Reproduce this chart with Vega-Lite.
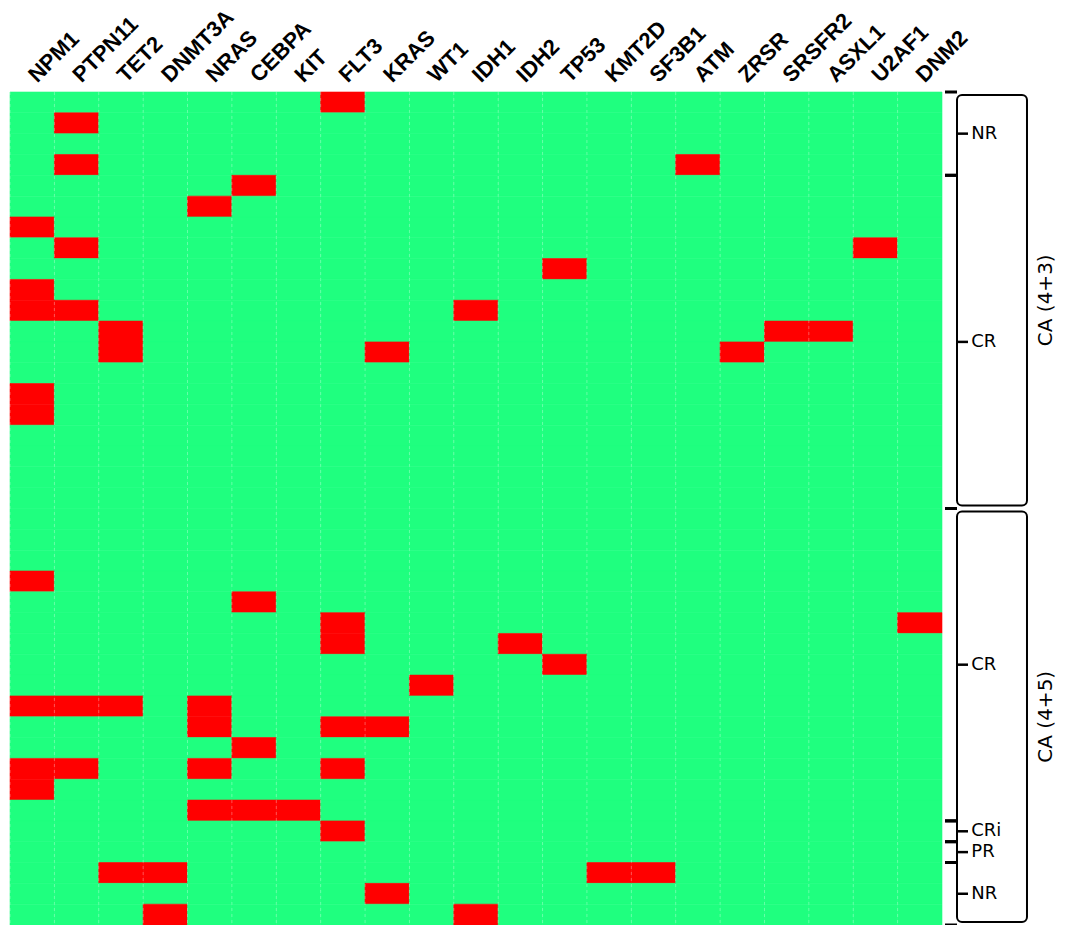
{
  "$schema": "https://vega.github.io/schema/vega-lite/v6.json",
  "width": 932,
  "height": 833,
  "autosize": {"type": "none"},
  "padding": {"left": 10, "top": 92, "right": 130, "bottom": 0},
  "background": "white",
  "config": {"view": {"stroke": null}, "font": "Liberation Sans"},
  "datasets": {
    "patients": [
      {"p":1,"NPM1":0,"PTPN11":0,"TET2":0,"DNMT3A":0,"NRAS":0,"CEBPA":0,"KIT":0,"FLT3":1,"KRAS":0,"WT1":0,"IDH1":0,"IDH2":0,"TP53":0,"KMT2D":0,"SF3B1":0,"ATM":0,"ZRSR":0,"SRSFR2":0,"ASXL1":0,"U2AF1":0,"DNM2":0},
      {"p":2,"NPM1":0,"PTPN11":1,"TET2":0,"DNMT3A":0,"NRAS":0,"CEBPA":0,"KIT":0,"FLT3":0,"KRAS":0,"WT1":0,"IDH1":0,"IDH2":0,"TP53":0,"KMT2D":0,"SF3B1":0,"ATM":0,"ZRSR":0,"SRSFR2":0,"ASXL1":0,"U2AF1":0,"DNM2":0},
      {"p":3,"NPM1":0,"PTPN11":0,"TET2":0,"DNMT3A":0,"NRAS":0,"CEBPA":0,"KIT":0,"FLT3":0,"KRAS":0,"WT1":0,"IDH1":0,"IDH2":0,"TP53":0,"KMT2D":0,"SF3B1":0,"ATM":0,"ZRSR":0,"SRSFR2":0,"ASXL1":0,"U2AF1":0,"DNM2":0},
      {"p":4,"NPM1":0,"PTPN11":1,"TET2":0,"DNMT3A":0,"NRAS":0,"CEBPA":0,"KIT":0,"FLT3":0,"KRAS":0,"WT1":0,"IDH1":0,"IDH2":0,"TP53":0,"KMT2D":0,"SF3B1":0,"ATM":1,"ZRSR":0,"SRSFR2":0,"ASXL1":0,"U2AF1":0,"DNM2":0},
      {"p":5,"NPM1":0,"PTPN11":0,"TET2":0,"DNMT3A":0,"NRAS":0,"CEBPA":1,"KIT":0,"FLT3":0,"KRAS":0,"WT1":0,"IDH1":0,"IDH2":0,"TP53":0,"KMT2D":0,"SF3B1":0,"ATM":0,"ZRSR":0,"SRSFR2":0,"ASXL1":0,"U2AF1":0,"DNM2":0},
      {"p":6,"NPM1":0,"PTPN11":0,"TET2":0,"DNMT3A":0,"NRAS":1,"CEBPA":0,"KIT":0,"FLT3":0,"KRAS":0,"WT1":0,"IDH1":0,"IDH2":0,"TP53":0,"KMT2D":0,"SF3B1":0,"ATM":0,"ZRSR":0,"SRSFR2":0,"ASXL1":0,"U2AF1":0,"DNM2":0},
      {"p":7,"NPM1":1,"PTPN11":0,"TET2":0,"DNMT3A":0,"NRAS":0,"CEBPA":0,"KIT":0,"FLT3":0,"KRAS":0,"WT1":0,"IDH1":0,"IDH2":0,"TP53":0,"KMT2D":0,"SF3B1":0,"ATM":0,"ZRSR":0,"SRSFR2":0,"ASXL1":0,"U2AF1":0,"DNM2":0},
      {"p":8,"NPM1":0,"PTPN11":1,"TET2":0,"DNMT3A":0,"NRAS":0,"CEBPA":0,"KIT":0,"FLT3":0,"KRAS":0,"WT1":0,"IDH1":0,"IDH2":0,"TP53":0,"KMT2D":0,"SF3B1":0,"ATM":0,"ZRSR":0,"SRSFR2":0,"ASXL1":0,"U2AF1":1,"DNM2":0},
      {"p":9,"NPM1":0,"PTPN11":0,"TET2":0,"DNMT3A":0,"NRAS":0,"CEBPA":0,"KIT":0,"FLT3":0,"KRAS":0,"WT1":0,"IDH1":0,"IDH2":0,"TP53":1,"KMT2D":0,"SF3B1":0,"ATM":0,"ZRSR":0,"SRSFR2":0,"ASXL1":0,"U2AF1":0,"DNM2":0},
      {"p":10,"NPM1":1,"PTPN11":0,"TET2":0,"DNMT3A":0,"NRAS":0,"CEBPA":0,"KIT":0,"FLT3":0,"KRAS":0,"WT1":0,"IDH1":0,"IDH2":0,"TP53":0,"KMT2D":0,"SF3B1":0,"ATM":0,"ZRSR":0,"SRSFR2":0,"ASXL1":0,"U2AF1":0,"DNM2":0},
      {"p":11,"NPM1":1,"PTPN11":1,"TET2":0,"DNMT3A":0,"NRAS":0,"CEBPA":0,"KIT":0,"FLT3":0,"KRAS":0,"WT1":0,"IDH1":1,"IDH2":0,"TP53":0,"KMT2D":0,"SF3B1":0,"ATM":0,"ZRSR":0,"SRSFR2":0,"ASXL1":0,"U2AF1":0,"DNM2":0},
      {"p":12,"NPM1":0,"PTPN11":0,"TET2":1,"DNMT3A":0,"NRAS":0,"CEBPA":0,"KIT":0,"FLT3":0,"KRAS":0,"WT1":0,"IDH1":0,"IDH2":0,"TP53":0,"KMT2D":0,"SF3B1":0,"ATM":0,"ZRSR":0,"SRSFR2":1,"ASXL1":1,"U2AF1":0,"DNM2":0},
      {"p":13,"NPM1":0,"PTPN11":0,"TET2":1,"DNMT3A":0,"NRAS":0,"CEBPA":0,"KIT":0,"FLT3":0,"KRAS":1,"WT1":0,"IDH1":0,"IDH2":0,"TP53":0,"KMT2D":0,"SF3B1":0,"ATM":0,"ZRSR":1,"SRSFR2":0,"ASXL1":0,"U2AF1":0,"DNM2":0},
      {"p":14,"NPM1":0,"PTPN11":0,"TET2":0,"DNMT3A":0,"NRAS":0,"CEBPA":0,"KIT":0,"FLT3":0,"KRAS":0,"WT1":0,"IDH1":0,"IDH2":0,"TP53":0,"KMT2D":0,"SF3B1":0,"ATM":0,"ZRSR":0,"SRSFR2":0,"ASXL1":0,"U2AF1":0,"DNM2":0},
      {"p":15,"NPM1":1,"PTPN11":0,"TET2":0,"DNMT3A":0,"NRAS":0,"CEBPA":0,"KIT":0,"FLT3":0,"KRAS":0,"WT1":0,"IDH1":0,"IDH2":0,"TP53":0,"KMT2D":0,"SF3B1":0,"ATM":0,"ZRSR":0,"SRSFR2":0,"ASXL1":0,"U2AF1":0,"DNM2":0},
      {"p":16,"NPM1":1,"PTPN11":0,"TET2":0,"DNMT3A":0,"NRAS":0,"CEBPA":0,"KIT":0,"FLT3":0,"KRAS":0,"WT1":0,"IDH1":0,"IDH2":0,"TP53":0,"KMT2D":0,"SF3B1":0,"ATM":0,"ZRSR":0,"SRSFR2":0,"ASXL1":0,"U2AF1":0,"DNM2":0},
      {"p":17,"NPM1":0,"PTPN11":0,"TET2":0,"DNMT3A":0,"NRAS":0,"CEBPA":0,"KIT":0,"FLT3":0,"KRAS":0,"WT1":0,"IDH1":0,"IDH2":0,"TP53":0,"KMT2D":0,"SF3B1":0,"ATM":0,"ZRSR":0,"SRSFR2":0,"ASXL1":0,"U2AF1":0,"DNM2":0},
      {"p":18,"NPM1":0,"PTPN11":0,"TET2":0,"DNMT3A":0,"NRAS":0,"CEBPA":0,"KIT":0,"FLT3":0,"KRAS":0,"WT1":0,"IDH1":0,"IDH2":0,"TP53":0,"KMT2D":0,"SF3B1":0,"ATM":0,"ZRSR":0,"SRSFR2":0,"ASXL1":0,"U2AF1":0,"DNM2":0},
      {"p":19,"NPM1":0,"PTPN11":0,"TET2":0,"DNMT3A":0,"NRAS":0,"CEBPA":0,"KIT":0,"FLT3":0,"KRAS":0,"WT1":0,"IDH1":0,"IDH2":0,"TP53":0,"KMT2D":0,"SF3B1":0,"ATM":0,"ZRSR":0,"SRSFR2":0,"ASXL1":0,"U2AF1":0,"DNM2":0},
      {"p":20,"NPM1":0,"PTPN11":0,"TET2":0,"DNMT3A":0,"NRAS":0,"CEBPA":0,"KIT":0,"FLT3":0,"KRAS":0,"WT1":0,"IDH1":0,"IDH2":0,"TP53":0,"KMT2D":0,"SF3B1":0,"ATM":0,"ZRSR":0,"SRSFR2":0,"ASXL1":0,"U2AF1":0,"DNM2":0},
      {"p":21,"NPM1":0,"PTPN11":0,"TET2":0,"DNMT3A":0,"NRAS":0,"CEBPA":0,"KIT":0,"FLT3":0,"KRAS":0,"WT1":0,"IDH1":0,"IDH2":0,"TP53":0,"KMT2D":0,"SF3B1":0,"ATM":0,"ZRSR":0,"SRSFR2":0,"ASXL1":0,"U2AF1":0,"DNM2":0},
      {"p":22,"NPM1":0,"PTPN11":0,"TET2":0,"DNMT3A":0,"NRAS":0,"CEBPA":0,"KIT":0,"FLT3":0,"KRAS":0,"WT1":0,"IDH1":0,"IDH2":0,"TP53":0,"KMT2D":0,"SF3B1":0,"ATM":0,"ZRSR":0,"SRSFR2":0,"ASXL1":0,"U2AF1":0,"DNM2":0},
      {"p":23,"NPM1":0,"PTPN11":0,"TET2":0,"DNMT3A":0,"NRAS":0,"CEBPA":0,"KIT":0,"FLT3":0,"KRAS":0,"WT1":0,"IDH1":0,"IDH2":0,"TP53":0,"KMT2D":0,"SF3B1":0,"ATM":0,"ZRSR":0,"SRSFR2":0,"ASXL1":0,"U2AF1":0,"DNM2":0},
      {"p":24,"NPM1":1,"PTPN11":0,"TET2":0,"DNMT3A":0,"NRAS":0,"CEBPA":0,"KIT":0,"FLT3":0,"KRAS":0,"WT1":0,"IDH1":0,"IDH2":0,"TP53":0,"KMT2D":0,"SF3B1":0,"ATM":0,"ZRSR":0,"SRSFR2":0,"ASXL1":0,"U2AF1":0,"DNM2":0},
      {"p":25,"NPM1":0,"PTPN11":0,"TET2":0,"DNMT3A":0,"NRAS":0,"CEBPA":1,"KIT":0,"FLT3":0,"KRAS":0,"WT1":0,"IDH1":0,"IDH2":0,"TP53":0,"KMT2D":0,"SF3B1":0,"ATM":0,"ZRSR":0,"SRSFR2":0,"ASXL1":0,"U2AF1":0,"DNM2":0},
      {"p":26,"NPM1":0,"PTPN11":0,"TET2":0,"DNMT3A":0,"NRAS":0,"CEBPA":0,"KIT":0,"FLT3":1,"KRAS":0,"WT1":0,"IDH1":0,"IDH2":0,"TP53":0,"KMT2D":0,"SF3B1":0,"ATM":0,"ZRSR":0,"SRSFR2":0,"ASXL1":0,"U2AF1":0,"DNM2":1},
      {"p":27,"NPM1":0,"PTPN11":0,"TET2":0,"DNMT3A":0,"NRAS":0,"CEBPA":0,"KIT":0,"FLT3":1,"KRAS":0,"WT1":0,"IDH1":0,"IDH2":1,"TP53":0,"KMT2D":0,"SF3B1":0,"ATM":0,"ZRSR":0,"SRSFR2":0,"ASXL1":0,"U2AF1":0,"DNM2":0},
      {"p":28,"NPM1":0,"PTPN11":0,"TET2":0,"DNMT3A":0,"NRAS":0,"CEBPA":0,"KIT":0,"FLT3":0,"KRAS":0,"WT1":0,"IDH1":0,"IDH2":0,"TP53":1,"KMT2D":0,"SF3B1":0,"ATM":0,"ZRSR":0,"SRSFR2":0,"ASXL1":0,"U2AF1":0,"DNM2":0},
      {"p":29,"NPM1":0,"PTPN11":0,"TET2":0,"DNMT3A":0,"NRAS":0,"CEBPA":0,"KIT":0,"FLT3":0,"KRAS":0,"WT1":1,"IDH1":0,"IDH2":0,"TP53":0,"KMT2D":0,"SF3B1":0,"ATM":0,"ZRSR":0,"SRSFR2":0,"ASXL1":0,"U2AF1":0,"DNM2":0},
      {"p":30,"NPM1":1,"PTPN11":1,"TET2":1,"DNMT3A":0,"NRAS":1,"CEBPA":0,"KIT":0,"FLT3":0,"KRAS":0,"WT1":0,"IDH1":0,"IDH2":0,"TP53":0,"KMT2D":0,"SF3B1":0,"ATM":0,"ZRSR":0,"SRSFR2":0,"ASXL1":0,"U2AF1":0,"DNM2":0},
      {"p":31,"NPM1":0,"PTPN11":0,"TET2":0,"DNMT3A":0,"NRAS":1,"CEBPA":0,"KIT":0,"FLT3":1,"KRAS":1,"WT1":0,"IDH1":0,"IDH2":0,"TP53":0,"KMT2D":0,"SF3B1":0,"ATM":0,"ZRSR":0,"SRSFR2":0,"ASXL1":0,"U2AF1":0,"DNM2":0},
      {"p":32,"NPM1":0,"PTPN11":0,"TET2":0,"DNMT3A":0,"NRAS":0,"CEBPA":1,"KIT":0,"FLT3":0,"KRAS":0,"WT1":0,"IDH1":0,"IDH2":0,"TP53":0,"KMT2D":0,"SF3B1":0,"ATM":0,"ZRSR":0,"SRSFR2":0,"ASXL1":0,"U2AF1":0,"DNM2":0},
      {"p":33,"NPM1":1,"PTPN11":1,"TET2":0,"DNMT3A":0,"NRAS":1,"CEBPA":0,"KIT":0,"FLT3":1,"KRAS":0,"WT1":0,"IDH1":0,"IDH2":0,"TP53":0,"KMT2D":0,"SF3B1":0,"ATM":0,"ZRSR":0,"SRSFR2":0,"ASXL1":0,"U2AF1":0,"DNM2":0},
      {"p":34,"NPM1":1,"PTPN11":0,"TET2":0,"DNMT3A":0,"NRAS":0,"CEBPA":0,"KIT":0,"FLT3":0,"KRAS":0,"WT1":0,"IDH1":0,"IDH2":0,"TP53":0,"KMT2D":0,"SF3B1":0,"ATM":0,"ZRSR":0,"SRSFR2":0,"ASXL1":0,"U2AF1":0,"DNM2":0},
      {"p":35,"NPM1":0,"PTPN11":0,"TET2":0,"DNMT3A":0,"NRAS":1,"CEBPA":1,"KIT":1,"FLT3":0,"KRAS":0,"WT1":0,"IDH1":0,"IDH2":0,"TP53":0,"KMT2D":0,"SF3B1":0,"ATM":0,"ZRSR":0,"SRSFR2":0,"ASXL1":0,"U2AF1":0,"DNM2":0},
      {"p":36,"NPM1":0,"PTPN11":0,"TET2":0,"DNMT3A":0,"NRAS":0,"CEBPA":0,"KIT":0,"FLT3":1,"KRAS":0,"WT1":0,"IDH1":0,"IDH2":0,"TP53":0,"KMT2D":0,"SF3B1":0,"ATM":0,"ZRSR":0,"SRSFR2":0,"ASXL1":0,"U2AF1":0,"DNM2":0},
      {"p":37,"NPM1":0,"PTPN11":0,"TET2":0,"DNMT3A":0,"NRAS":0,"CEBPA":0,"KIT":0,"FLT3":0,"KRAS":0,"WT1":0,"IDH1":0,"IDH2":0,"TP53":0,"KMT2D":0,"SF3B1":0,"ATM":0,"ZRSR":0,"SRSFR2":0,"ASXL1":0,"U2AF1":0,"DNM2":0},
      {"p":38,"NPM1":0,"PTPN11":0,"TET2":1,"DNMT3A":1,"NRAS":0,"CEBPA":0,"KIT":0,"FLT3":0,"KRAS":0,"WT1":0,"IDH1":0,"IDH2":0,"TP53":0,"KMT2D":1,"SF3B1":1,"ATM":0,"ZRSR":0,"SRSFR2":0,"ASXL1":0,"U2AF1":0,"DNM2":0},
      {"p":39,"NPM1":0,"PTPN11":0,"TET2":0,"DNMT3A":0,"NRAS":0,"CEBPA":0,"KIT":0,"FLT3":0,"KRAS":1,"WT1":0,"IDH1":0,"IDH2":0,"TP53":0,"KMT2D":0,"SF3B1":0,"ATM":0,"ZRSR":0,"SRSFR2":0,"ASXL1":0,"U2AF1":0,"DNM2":0},
      {"p":40,"NPM1":0,"PTPN11":0,"TET2":0,"DNMT3A":1,"NRAS":0,"CEBPA":0,"KIT":0,"FLT3":0,"KRAS":0,"WT1":0,"IDH1":1,"IDH2":0,"TP53":0,"KMT2D":0,"SF3B1":0,"ATM":0,"ZRSR":0,"SRSFR2":0,"ASXL1":0,"U2AF1":0,"DNM2":0}
    ],
    "genes": [
      {"gene":"NPM1"},{"gene":"PTPN11"},{"gene":"TET2"},{"gene":"DNMT3A"},{"gene":"NRAS"},{"gene":"CEBPA"},{"gene":"KIT"},{"gene":"FLT3"},{"gene":"KRAS"},{"gene":"WT1"},{"gene":"IDH1"},{"gene":"IDH2"},{"gene":"TP53"},{"gene":"KMT2D"},{"gene":"SF3B1"},{"gene":"ATM"},{"gene":"ZRSR"},{"gene":"SRSFR2"},{"gene":"ASXL1"},{"gene":"U2AF1"},{"gene":"DNM2"}
    ],
    "groups": [
      {"cohort":"CA (4+3)","resp":"NR","start":0,"end":4},
      {"cohort":"CA (4+3)","resp":"CR","start":4,"end":20},
      {"cohort":"CA (4+5)","resp":"CR","start":20,"end":35},
      {"cohort":"CA (4+5)","resp":"CRi","start":35,"end":36},
      {"cohort":"CA (4+5)","resp":"PR","start":36,"end":37},
      {"cohort":"CA (4+5)","resp":"NR","start":37,"end":40}
    ],
    "cohorts": [
      {"cohort":"CA (4+3)","start":0,"end":20},
      {"cohort":"CA (4+5)","start":20,"end":40}
    ]
  },
  "layer": [
    {
      "data": {"name": "patients"},
      "transform": [{"fold": ["NPM1","PTPN11","TET2","DNMT3A","NRAS","CEBPA","KIT","FLT3","KRAS","WT1","IDH1","IDH2","TP53","KMT2D","SF3B1","ATM","ZRSR","SRSFR2","ASXL1","U2AF1","DNM2"], "as": ["gene","mut"]}],
      "mark": {"type": "rect", "strokeWidth": 0.6},
      "encoding": {
        "x": {"field": "gene", "type": "nominal",
              "scale": {"domain": ["NPM1","PTPN11","TET2","DNMT3A","NRAS","CEBPA","KIT","FLT3","KRAS","WT1","IDH1","IDH2","TP53","KMT2D","SF3B1","ATM","ZRSR","SRSFR2","ASXL1","U2AF1","DNM2"], "paddingInner": 0, "paddingOuter": 0},
              "axis": {"orient": "top", "title": null, "labelAngle": -45, "labelAlign": "left", "labelBaseline": "middle", "labelPadding": 14, "ticks": false, "domain": false, "grid": false, "labelFont": "Liberation Sans", "labelFontWeight": "bold", "labelFontSize": 22, "labelColor": "#000000", "labelLimit": 300}},
        "y": {"field": "p", "type": "ordinal", "scale": {"paddingInner": 0, "paddingOuter": 0}, "axis": null},
        "color": {"field": "mut", "type": "nominal", "scale": {"domain": [0, 1], "range": ["#1FFF7F", "#FF0000"]}, "legend": null},
        "stroke": {"field": "mut", "type": "nominal", "scale": {"domain": [0, 1], "range": ["#1FFF7F", "#FF0000"]}, "legend": null}
      }
    },
    {
      "data": {"name": "genes"},
      "mark": {"type": "rule", "color": "#ffffff", "strokeOpacity": 0.3, "strokeDash": [3, 3], "strokeWidth": 1},
      "encoding": {
        "x": {"field": "gene", "type": "nominal", "bandPosition": 0,
              "scale": {"domain": ["NPM1","PTPN11","TET2","DNMT3A","NRAS","CEBPA","KIT","FLT3","KRAS","WT1","IDH1","IDH2","TP53","KMT2D","SF3B1","ATM","ZRSR","SRSFR2","ASXL1","U2AF1","DNM2"], "paddingInner": 0, "paddingOuter": 0},
              "axis": null}
      }
    },
    {
      "data": {"name": "cohorts"},
      "mark": {"type": "rect", "fillOpacity": 0, "stroke": "#000000", "strokeWidth": 2, "cornerRadius": 5, "yOffset": 3, "y2Offset": -3},
      "encoding": {
        "x": {"datum": 21.338, "type": "quantitative", "scale": {"domain": [0, 21], "nice": false, "zero": false}, "axis": null},
        "x2": {"datum": 22.915},
        "y": {"field": "start", "type": "quantitative", "scale": {"domain": [0, 40], "reverse": true, "nice": false, "zero": false}, "axis": null},
        "y2": {"field": "end"}
      }
    },
    {
      "data": {"name": "groups"},
      "mark": {"type": "rule", "color": "#000000", "strokeWidth": 3},
      "encoding": {
        "x": {"datum": 21.068, "type": "quantitative", "scale": {"domain": [0, 21], "nice": false, "zero": false}, "axis": null},
        "x2": {"datum": 21.338},
        "y": {"field": "start", "type": "quantitative", "scale": {"domain": [0, 40], "reverse": true, "nice": false, "zero": false}, "axis": null}
      }
    },
    {
      "data": {"name": "groups"},
      "mark": {"type": "rule", "color": "#000000", "strokeWidth": 3},
      "encoding": {
        "x": {"datum": 21.068, "type": "quantitative", "scale": {"domain": [0, 21], "nice": false, "zero": false}, "axis": null},
        "x2": {"datum": 21.338},
        "y": {"field": "end", "type": "quantitative", "scale": {"domain": [0, 40], "reverse": true, "nice": false, "zero": false}, "axis": null}
      }
    },
    {
      "data": {"name": "groups"},
      "transform": [{"calculate": "(datum.start + datum.end) / 2", "as": "mid"}],
      "mark": {"type": "rule", "color": "#000000", "strokeWidth": 2.5},
      "encoding": {
        "x": {"datum": 21.338, "type": "quantitative", "scale": {"domain": [0, 21], "nice": false, "zero": false}, "axis": null},
        "x2": {"datum": 21.586},
        "y": {"field": "mid", "type": "quantitative", "scale": {"domain": [0, 40], "reverse": true, "nice": false, "zero": false}, "axis": null}
      }
    },
    {
      "data": {"name": "groups"},
      "transform": [{"calculate": "(datum.start + datum.end) / 2", "as": "mid"}],
      "mark": {"type": "text", "align": "left", "baseline": "middle", "fontSize": 18, "font": "DejaVu Sans", "color": "#000000"},
      "encoding": {
        "x": {"datum": 21.66, "type": "quantitative", "scale": {"domain": [0, 21], "nice": false, "zero": false}, "axis": null},
        "y": {"field": "mid", "type": "quantitative", "scale": {"domain": [0, 40], "reverse": true, "nice": false, "zero": false}, "axis": null},
        "text": {"field": "resp"}
      }
    },
    {
      "data": {"name": "cohorts"},
      "transform": [{"calculate": "(datum.start + datum.end) / 2", "as": "mid"}],
      "mark": {"type": "text", "align": "center", "baseline": "middle", "angle": 270, "fontSize": 20, "font": "DejaVu Sans", "color": "#000000"},
      "encoding": {
        "x": {"datum": 23.35, "type": "quantitative", "scale": {"domain": [0, 21], "nice": false, "zero": false}, "axis": null},
        "y": {"field": "mid", "type": "quantitative", "scale": {"domain": [0, 40], "reverse": true, "nice": false, "zero": false}, "axis": null},
        "text": {"field": "cohort"}
      }
    }
  ],
  "resolve": {"scale": {"x": "independent", "y": "independent", "color": "independent", "stroke": "independent"}}
}
